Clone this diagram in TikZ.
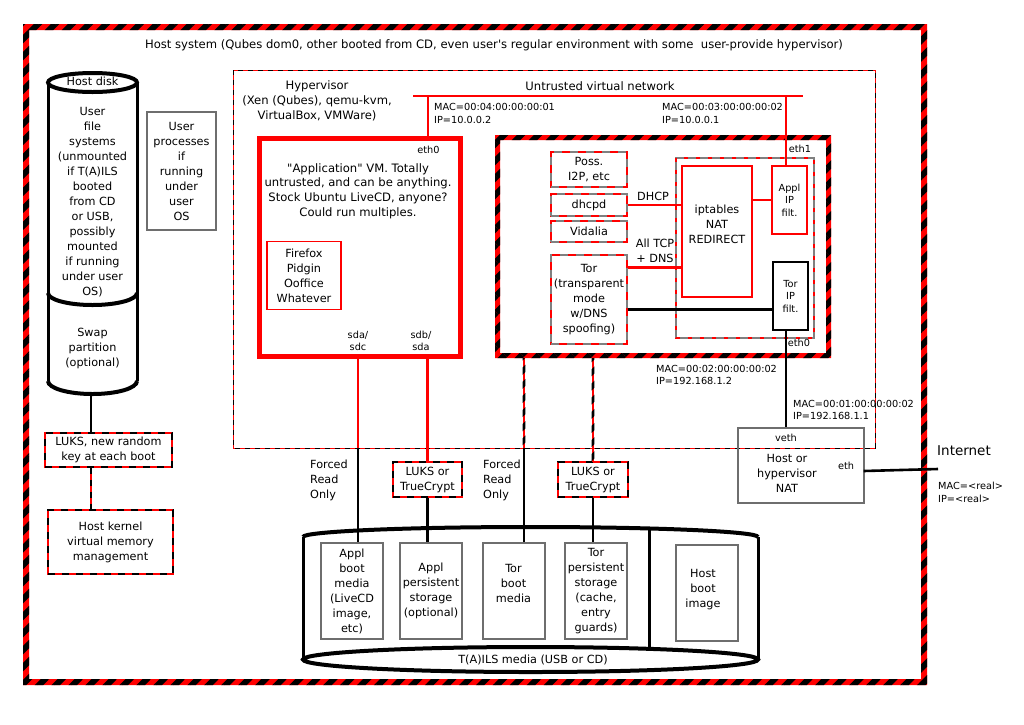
\documentclass[tikz,border=0pt]{standalone}
\usepackage{fontspec}
\setmainfont{DejaVu Sans}[Ligatures=TeXOff]
\usetikzlibrary{patterns.meta,calc}
\newcommand\fsn{\fontsize{11.25}{15}\selectfont}
\newcommand\fsb{\fontsize{11.6}{14.8}\selectfont}
\newcommand\fsm{\fontsize{9.75}{12.5}\selectfont}
\newcommand\fsl{\fontsize{13.5}{16}\selectfont}
\definecolor{bgray}{HTML}{6E6E6E}
\definecolor{dgray}{HTML}{808080}
\begin{document}
\begin{tikzpicture}[x=1pt,y=-1pt,
  txt/.style={font=\fsn, align=center, inner sep=0pt},
  btxt/.style={font=\fsb, align=center, inner sep=0pt},
  sml/.style={font=\fsm, align=center, inner sep=0pt},
  smll/.style={font=\fsm, align=left, inner sep=0pt, anchor=west},
  gbox/.style={draw=bgray, line width=1.2pt, inner sep=0pt},
  rbox/.style={draw=red, line width=1.2pt, inner sep=0pt},
  rbdash/.style={draw=red, line width=1.2pt, inner sep=0pt,
     postaction={draw=black, line width=1.2pt, dash pattern=on 7pt off 7pt}},
  rgdash/.style={draw=red, line width=1.2pt, inner sep=0pt,
     postaction={draw=dgray, line width=1.2pt, dash pattern=on 8pt off 8pt}},
  rline/.style={draw=red, line width=2.6pt},
  bline/.style={draw=black, line width=2.6pt},
  rbline/.style={draw=red, line width=2.6pt,
     postaction={draw=black, line width=2.6pt, dash pattern=on 6pt off 6pt}},
  hatch/.style={pattern={Lines[angle=45,distance=12pt,line width=6pt]}, pattern color=black},
  hatchs/.style={pattern={Lines[angle=45,distance=10pt,line width=5pt]}, pattern color=black}
]
\useasboundingbox (0,0) rectangle (1024,724);
\fill[white] (0,0) rectangle (1024,724);

% ---------- outer host border
\fill[red,even odd rule] (23,24) rectangle (927,685) (29,30) rectangle (921,679);
\fill[hatch,even odd rule] (23,24) rectangle (927,685) (29,30) rectangle (921,679);
\node[btxt] (title) at (494,45) {Host system (Qubes dom0, other booted from CD, even user's regular environment with some\ \ user-provide hypervisor)};

% ---------- host disk cylinder
\draw[line width=3pt] (48,82.5) -- (48,381) (137,82.5) -- (137,381);
\draw[line width=4pt] (48,293) arc[start angle=180,end angle=0,x radius=44.5,y radius=12];
\draw[line width=4pt] (48,381) arc[start angle=180,end angle=0,x radius=44.5,y radius=13];
\draw[line width=4pt,fill=white] (92.5,82.5) ellipse[x radius=44.5,y radius=9.5];
\node[txt] (hdisk) at (92.5,81.5) {Host disk};
\node[txt] (ufs) at (92.5,202) {User\\file\\systems\\(unmounted\\if T(A)ILS\\booted\\from CD\\or USB,\\possibly\\mounted\\if running\\under user\\OS)};
\node[txt] (swap) at (92.5,348) {Swap\\partition\\(optional)};
\coordinate (cylbot) at (91,393);

\node[gbox,txt,minimum width=69pt,minimum height=118pt] (uproc) at (181.5,171) {User\\processes\\if\\running\\under\\user\\OS};

\node[rbdash,txt,minimum width=127pt,minimum height=34pt] (luksram) at (108.5,450) {LUKS, new random\\key at each boot};
\node[rbdash,txt,minimum width=125pt,minimum height=64pt] (kernel) at (110.5,542) {Host kernel\\virtual memory\\management};
\draw[bline] (cylbot) -- (luksram.north -| cylbot);
\draw[rbline] (luksram.south -| cylbot) -- (kernel.north -| cylbot);

% ---------- hypervisor
\draw[red,line width=1pt,postaction={draw=black,line width=1pt,dash pattern=on 5pt off 5pt}] (233,70) rectangle (875,448);
\node[btxt] (hyptxt) at (317,101) {Hypervisor\\(Xen (Qubes), qemu-kvm,\\VirtualBox, VMWare)};
\coordinate (netL) at (413,96);
\coordinate (netR) at (803,96);
\coordinate (n1) at (428,96);
\coordinate (n2) at (786,96);
\draw[rline] (netL) -- (netR);
\node[btxt] (netlbl) at (600,86) {Untrusted virtual network};
\node[smll] (mac4) at (434,113.5) {MAC=00:04:00:00:00:01\\IP=10.0.0.2};
\node[smll] (mac3) at (662,113.5) {MAC=00:03:00:00:00:02\\IP=10.0.0.1};

% ---------- application VM
\node[draw=red,line width=5pt,minimum width=200.5pt,minimum height=217.5pt,inner sep=0pt] (appvm) at (359.75,247.25) {};
\draw[rline] (n1) -- (n1 |- appvm.north);
\node[sml] (eth0a) at (428.5,150) {eth0};
\node[btxt] (apptxt) at (358,191) {"Application" VM. Totally\\untrusted, and can be anything.\\Stock Ubuntu LiveCD, anyone?\\Could run multiples.};
\node[rbox,txt,minimum width=74pt,minimum height=68pt] (apps) at (304,275.5) {Firefox\\Pidgin\\Ooffice\\Whatever};
\node[sml] (sda) at (358,341) {sda/\\sdc};
\node[sml] (sdb) at (421,341) {sdb/\\sda};

% ---------- gateway VM
\node[minimum width=331pt,minimum height=218pt,inner sep=0pt] (gw) at (663,246.5) {};
\fill[red,even odd rule] (495,135) rectangle (831,358) (500,140) rectangle (826,353);
\fill[hatch,even odd rule] (495,135) rectangle (831,358) (500,140) rectangle (826,353);
\node[rgdash,txt,minimum width=76pt,minimum height=35pt] (poss) at (589,169.5) {Poss.\\I2P, etc};
\node[rgdash,txt,minimum width=76pt,minimum height=22pt] (dhcpd) at (589,205) {dhcpd};
\node[rgdash,txt,minimum width=76pt,minimum height=21pt] (vidalia) at (589,231.5) {Vidalia};
\node[rgdash,txt,minimum width=76pt,minimum height=89pt] (tor) at (589,299.5) {Tor\\(transparent\\mode\\w/DNS\\spoofing)};
\draw[dgray,line width=1.2pt,postaction={draw=red,line width=1.2pt,dash pattern=on 4pt off 8pt}] (676,158) rectangle (814,338);
\node[rbox,minimum width=70pt,minimum height=131pt] (ipt) at (717,231.5) {};
\node[txt] (ipttxt) at (717,224) {iptables\\NAT\\REDIRECT};
\node[rbox,sml,minimum width=35pt,minimum height=68pt] (apf) at (789.5,200) {Appl\\IP\\filt.};
\node[draw=black,line width=1.2pt,inner sep=0pt,sml,minimum width=35pt,minimum height=68pt] (tipf) at (790.5,296) {Tor\\IP\\filt.};
\node[sml] (eth1) at (800,149) {eth1};
\node[sml] (eth0g) at (799,343) {eth0};
\node[txt] (dhcplbl) at (653,196) {DHCP};
\node[txt] (tcplbl) at (655,251) {All TCP\\+ DNS};
\draw[rline] (dhcpd.east) -- (dhcpd.east -| ipt.west);
\coordinate (tcp) at ($(tor.north east)+(0,13)$);
\draw[rline] (tcp) -- (tcp -| ipt.west);
\draw[rline] (ipt.east |- apf.west) -- (apf.west);
\coordinate (tt) at ($(tor.north east)+(0,55)$);
\draw[bline] (tt) -- (tt -| tipf.west);
\draw[rline] (n2) -- (n2 |- apf.north);
\node[smll] (mac2) at (656,375) {MAC=00:02:00:00:00:02\\IP=192.168.1.2};
\node[smll] (mac1) at (793,410) {MAC=00:01:00:00:00:02\\IP=192.168.1.1};

% ---------- NAT
\node[draw=bgray,line width=1.2pt,minimum width=126pt,minimum height=75pt,inner sep=0pt] (nat) at (801,465.5) {};
\draw[bline] (n2 |- tipf.south) -- (n2 |- nat.north);
\node[sml] (veth) at (786,438) {veth};
\node[txt] (nattxt) at (787,473) {Host or\\hypervisor\\NAT};
\node[sml] (eth) at (846,466) {eth};
\coordinate (natp) at ($(nat.east)+(-1,5.5)$);
\coordinate (inetL) at (938,469);
\draw[line width=2.6pt] (natp) -- (inetL);
\node[font=\fsl,inner sep=0pt] (inet) at (964,451) {Internet};
\node[smll] (macr) at (938,492.5) {MAC=<real>\\IP=<real>};

% ---------- T(A)ILS media cylinder
\draw[line width=3pt] (303,537) -- (303,659.5) (758,537) -- (758,659.5);
\draw[line width=4pt] (303,537) arc[start angle=180,end angle=360,x radius=227.5,y radius=10];
\draw[line width=3pt] (649,528.5) -- (649,649);
\draw[line width=4pt,fill=white] (530.5,659.5) ellipse[x radius=227.5,y radius=12.5];
\node[txt] (tails) at (533,660) {T(A)ILS media (USB or CD)};

\node[gbox,txt,minimum width=62pt,minimum height=96pt] (m1) at (352,591) {Appl\\boot\\media\\(LiveCD\\image,\\etc)};
\node[gbox,txt,minimum width=62pt,minimum height=96pt] (m2) at (431,591) {Appl\\persistent\\storage\\(optional)};
\node[gbox,minimum width=62pt,minimum height=96pt] (m3) at (514,591) {};
\node[txt] (m3t) at (513.5,583) {Tor\\boot\\media};
\node[gbox,txt,minimum width=62pt,minimum height=96pt] (m4) at (596,591) {Tor\\persistent\\storage\\(cache,\\entry\\guards)};
\node[gbox,minimum width=62pt,minimum height=96pt] (m5) at (707,593) {};
\node[txt] (m5t) at (703,590) {Host\\boot\\image};

\node[rbdash,txt,minimum width=69pt,minimum height=35pt] (luks1) at (427.5,479.5) {LUKS or\\TrueCrypt};
\node[rbdash,txt,minimum width=70pt,minimum height=35pt] (luks2) at (593,479.5) {LUKS or\\TrueCrypt};
\node[txt,anchor=west,align=left] (fro1) at (310,480) {Forced\\Read\\Only};
\node[txt,anchor=west,align=left] (fro2) at (483,480) {Forced\\Read\\Only};

% connectors from application VM
\coordinate (a1) at (358,448);
\draw[rline] (appvm.south -| a1) -- (a1);
\draw[bline] (a1) -- (m1.north -| a1);
\draw[rline] (appvm.south -| luks1.north) -- (luks1.north);
\draw[bline] (luks1.south) -- (m2.north -| luks1.south);

% connectors from gateway VM
\coordinate (g1) at (524,448);
\fill[red] (522.7,358) rectangle (525.3,448);
\fill[hatchs] (522.7,358) rectangle (525.3,448);
\draw[bline] (g1) -- (m3.north -| g1);
\fill[red] (591.7,358) rectangle (594.3,462);
\fill[hatchs] (591.7,358) rectangle (594.3,462);
\draw[bline] (luks2.south) -- (m4.north -| luks2.south);
\end{tikzpicture}
\end{document}
